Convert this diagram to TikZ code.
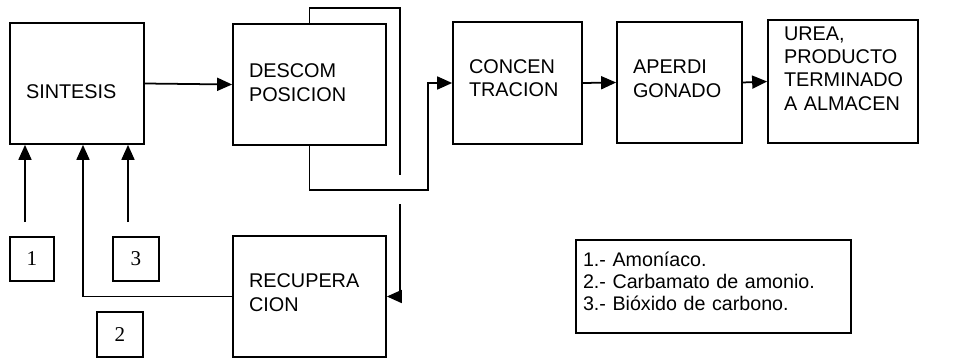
\documentclass[tikz,border=0pt]{standalone}
\usepackage{fontspec}
\setmainfont{Liberation Serif}
\setsansfont{Liberation Sans}
\usepackage{tikz}
\usetikzlibrary{shapes}
\usetikzlibrary{arrows.meta}
\tikzset{
  proc_box/.style = {rectangle, draw=black, line width=1pt, align=left,
    inner xsep=0.32cm, font=\sffamily\fontsize{11.3}{13.2}\selectfont},% bloque del proceso
  num_box/.style = {rectangle, draw=black, line width=1pt, inner sep=0pt,
    font=\rmfamily\fontsize{12}{14}\selectfont},% corriente numerada
  legend_box/.style = {rectangle, draw=black, line width=1pt, align=left,
    inner xsep=0.14cm, font=\sffamily\fontsize{11.2}{12.5}\selectfont},% leyenda
  flow_line/.style = {line width=1pt},
  flow_arrow/.style = {flow_line, -{Triangle[length=0.3cm, width=0.26cm]}}
}

\begin{document}
\begin{tikzpicture}[x=0.02cm, y=-0.02cm]
    \useasboundingbox (0,0) rectangle (977,358);

    % bloques
    \node [proc_box, text width=2.04cm, minimum height=2.42cm, text height=0.6cm] (sint) at (77,83.5) {SINTESIS};
    \node [proc_box, text width=2.42cm, minimum height=2.42cm, text depth=0.54cm] (desc) at (309.5,84.5) {DESCOM\\POSICION};
    \node [proc_box, text width=1.94cm, minimum height=2.44cm, text depth=0.66cm] (conc) at (517.5,83) {CONCEN\\TRACION};
    \node [proc_box, text width=1.86cm, minimum height=2.42cm, text depth=0.62cm] (aper) at (679.5,82.5) {APERDI\\GONADO};
    \node [proc_box, text width=2.36cm, minimum height=2.46cm, text depth=1.91cm] (urea) at (843,81.5) {UREA,\\PRODUCTO\\TERMINADO\\A ALMACEN};
    \node [proc_box, text width=2.42cm, minimum height=2.42cm, text depth=0.62cm] (recup) at (309.5,296.5) {RECUPERA\\CION};

    % corrientes
    \node [num_box, minimum width=0.88cm, minimum height=0.88cm] (in1) at (32,259) {1};
    \node [num_box, minimum width=0.92cm, minimum height=0.88cm] (in3) at (136,259) {3};
    \node [num_box, minimum width=0.92cm, minimum height=0.90cm] (in2) at (120,334.5) {2};

    \node [legend_box, text width=5.22cm, minimum height=1.86cm, text depth=1.08cm] (legend) at (713.5,286.5)
      {1.- Amon\'{\i}aco.\\2.- Carbamato de amonio.\\3.- Bi\'oxido de carbono.};

    \coordinate (feed_a) at (25,222);
    \coordinate (feed_c) at (128,222);
    \coordinate (loop_top) at (400,8);
    \coordinate (hop_up) at (400,175);
    \coordinate (hop_down) at (400,204);
    \coordinate (bypass) at (428,190);

    \draw [flow_arrow] (sint.east) -- (desc.west);
    \draw [flow_line] (desc.north) |- (loop_top) -- (hop_up);
    \draw [flow_arrow] (hop_down) |- (recup.east);
    \draw [flow_arrow] (desc.south) |- (bypass) |- (conc.west);
    \draw [flow_arrow] (conc.east) -- (aper.west);
    \draw [flow_arrow] (aper.east) -- (urea.west);
    \draw [flow_arrow] (recup.west) -| ([xshift=0.12cm]sint.south);
    \draw [flow_arrow] (feed_a) -- (feed_a |- sint.south);
    \draw [flow_arrow] (feed_c) -- (feed_c |- sint.south);
  \end{tikzpicture}
\end{document}
